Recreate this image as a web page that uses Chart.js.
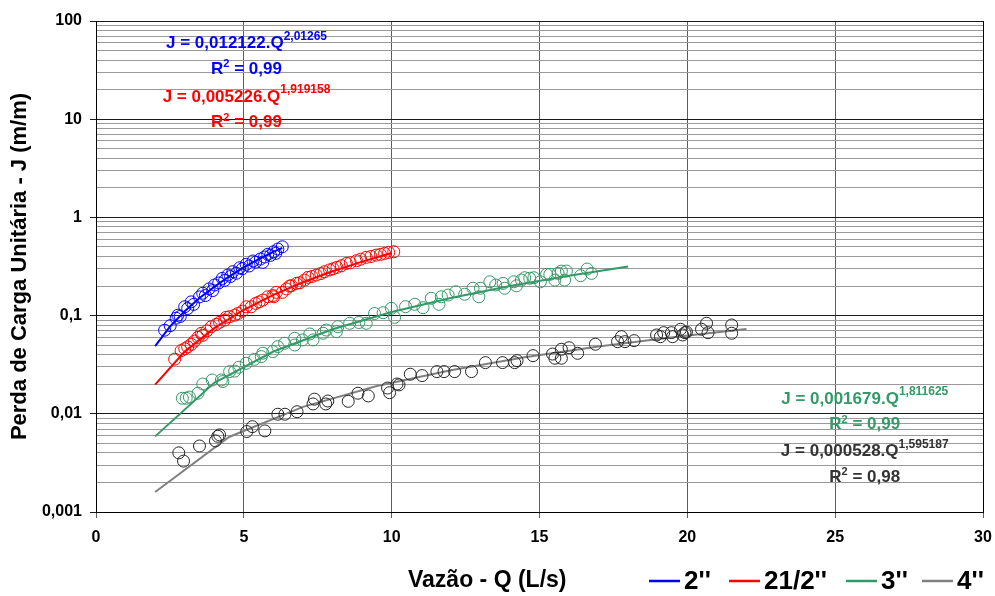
<!DOCTYPE html>
<html lang="pt-BR">
<head>
<meta charset="utf-8">
<title>Perda de carga unitária x vazão</title>
<script src="https://cdn.jsdelivr.net/npm/chart.js@4.4.1/dist/chart.umd.min.js"></script>
<style>
  html, body { margin: 0; padding: 0; background: #fff; }
  #wrap { width: 995px; height: 596px; }
</style>
</head>
<body>
<div id="wrap"><canvas id="chart" width="995" height="596"></canvas></div>
<script>
// Perda de carga unitária (J) x vazão (Q) para tubos de 2", 2 1/2", 3" e 4"

// Medições - 2"
const q2 = [2.32, 2.51, 2.71, 2.77, 2.85, 3.00, 3.10, 3.22, 3.30, 3.50, 3.61, 3.70, 3.82, 3.95, 4.01, 4.15, 4.27, 4.35, 4.46, 4.55, 4.63, 4.75, 4.86, 4.95, 5.08, 5.18, 5.31, 5.40, 5.56, 5.64, 5.70, 5.81, 5.90, 6.01, 6.08, 6.15, 6.30];
const j2 = [0.071, 0.079, 0.094, 0.101, 0.098, 0.123, 0.118, 0.138, 0.130, 0.155, 0.169, 0.160, 0.187, 0.180, 0.205, 0.215, 0.239, 0.228, 0.259, 0.250, 0.280, 0.270, 0.307, 0.300, 0.333, 0.320, 0.360, 0.350, 0.377, 0.348, 0.395, 0.421, 0.410, 0.447, 0.430, 0.476, 0.502];

// Medições - 2 1/2"
const q25 = [2.66, 2.88, 3.00, 3.10, 3.22, 3.33, 3.45, 3.56, 3.61, 3.75, 3.90, 4.07, 4.18, 4.35, 4.40, 4.52, 4.69, 4.80, 4.95, 5.08, 5.25, 5.40, 5.52, 5.64, 5.81, 5.98, 6.01, 6.10, 6.30, 6.44, 6.55, 6.61, 6.78, 6.89, 7.05, 7.17, 7.30, 7.45, 7.60, 7.73, 7.90, 8.02, 8.15, 8.30, 8.47, 8.60, 8.81, 8.95, 9.14, 9.30, 9.48, 9.62, 9.76, 9.90, 10.07];
const j25 = [0.036, 0.044, 0.046, 0.048, 0.051, 0.055, 0.060, 0.066, 0.063, 0.070, 0.077, 0.0815, 0.0855, 0.090, 0.096, 0.0975, 0.101, 0.105, 0.111, 0.123, 0.123, 0.133, 0.138, 0.144, 0.1555, 0.160, 0.1555, 0.1725, 0.1725, 0.187, 0.200, 0.2015, 0.213, 0.216, 0.230, 0.245, 0.250, 0.259, 0.268, 0.280, 0.292, 0.300, 0.310, 0.322, 0.340, 0.345, 0.362, 0.375, 0.392, 0.400, 0.413, 0.420, 0.430, 0.440, 0.447];

// Medições - 3"
const q3 = [2.92, 3.05, 3.16, 3.45, 3.61, 3.93, 4.24, 4.29, 4.52, 4.69, 4.83, 5.08, 5.36, 5.59, 5.64, 5.98, 6.15, 6.38, 6.72, 6.72, 6.98, 7.23, 7.34, 7.68, 7.79, 8.13, 8.18, 8.58, 8.89, 9.14, 9.42, 9.71, 9.99, 10.10, 10.47, 10.78, 11.06, 11.34, 11.60, 11.68, 11.91, 12.17, 12.47, 12.75, 12.95, 13.00, 13.32, 13.52, 13.77, 13.82, 14.13, 14.22, 14.39, 14.50, 14.67, 14.81, 15.03, 15.24, 15.35, 15.52, 15.63, 15.74, 15.85, 15.91, 16.39, 16.61, 16.76];
const j3 = [0.0144, 0.0144, 0.0148, 0.0162, 0.0201, 0.0221, 0.0221, 0.0213, 0.0269, 0.0272, 0.0298, 0.0327, 0.0359, 0.0382, 0.0414, 0.0430, 0.0483, 0.0523, 0.0502, 0.0587, 0.0565, 0.0650, 0.0565, 0.0661, 0.0713, 0.0686, 0.0771, 0.0835, 0.0850, 0.0835, 0.105, 0.107, 0.1186, 0.096, 0.1233, 0.1303, 0.1203, 0.150, 0.1303, 0.1555, 0.162, 0.175, 0.165, 0.190, 0.1555, 0.190, 0.221, 0.205, 0.213, 0.190, 0.221, 0.201, 0.230, 0.243, 0.240, 0.243, 0.221, 0.263, 0.263, 0.230, 0.269, 0.284, 0.230, 0.284, 0.255, 0.298, 0.269];

// Medições - 4"
const q4 = [2.80, 2.96, 3.50, 4.04, 4.12, 4.18, 5.10, 5.29, 5.71, 6.15, 6.39, 6.80, 7.34, 7.39, 7.77, 7.84, 8.53, 8.86, 9.21, 9.86, 9.93, 10.18, 10.25, 10.63, 11.03, 11.53, 11.77, 12.13, 12.70, 13.17, 13.75, 14.16, 14.24, 14.78, 15.44, 15.52, 15.74, 15.74, 16.00, 16.29, 16.89, 17.64, 17.77, 17.89, 18.20, 18.96, 19.09, 19.20, 19.46, 19.50, 19.77, 19.84, 19.92, 19.97, 20.48, 20.65, 20.70, 21.50, 21.50];
const j4 = [0.0040, 0.0033, 0.0047, 0.0053, 0.0059, 0.0061, 0.0066, 0.0074, 0.0067, 0.0099, 0.0099, 0.0105, 0.0126, 0.0141, 0.0126, 0.0135, 0.0134, 0.0162, 0.0152, 0.0183, 0.0164, 0.0201, 0.0197, 0.0253, 0.0245, 0.0269, 0.0269, 0.0269, 0.0269, 0.0332, 0.0332, 0.0332, 0.0348, 0.0391, 0.0406, 0.0368, 0.0368, 0.0454, 0.0471, 0.0413, 0.0511, 0.0543, 0.0610, 0.0543, 0.0556, 0.0635, 0.0610, 0.0670, 0.0670, 0.0610, 0.0726, 0.0635, 0.0670, 0.0680, 0.0726, 0.0836, 0.0670, 0.0802, 0.0661];

// Curvas ajustadas (linhas de tendência)
const fitQ2 = [2, 2.5, 3, 3.5, 4, 4.5, 5, 5.5, 6, 6.3];
const fitJ2 = [0.049, 0.077, 0.111, 0.151, 0.196, 0.250, 0.309, 0.375, 0.445, 0.49];
const fitQ25 = [2, 3, 4, 5, 6, 7, 8, 9, 10];
const fitJ25 = [0.0198, 0.0430, 0.0747, 0.1147, 0.1628, 0.2188, 0.2827, 0.3543, 0.4338];
const fitQ3 = [2, 4, 6, 8, 10, 12, 14, 16, 18];
const fitJ3 = [0.00589, 0.0207, 0.0431, 0.0726, 0.1088, 0.1514, 0.2001, 0.2549, 0.3156];
const fitQ4 = [2, 4.5, 7, 9.5, 12, 14.5, 17, 19.5, 22];
const fitJ4 = [0.0016, 0.00581, 0.01176, 0.01915, 0.0278, 0.0376, 0.0484, 0.0603, 0.0731];

// Eixos
const yDecades = [0.001, 0.01, 0.1, 1, 10, 100];
const yDecadeLabels = ['0,001', '0,01', '0,1', '1', '10', '100'];
const seriesNames = ["2''", "21/2''", "3''", "4''"];

const FONT = '"Liberation Sans", Arial, Helvetica, sans-serif';
const BLUE = '#0000ff';
const RED = '#ff0000';
const GREEN = '#339966';
const GRAY = '#808080';
const DARK = '#262626';

Chart.defaults.font.family = FONT;
Chart.defaults.color = '#000';

const pts = (qs, js) => qs.map((q, i) => ({ x: q, y: js[i] }));

function fitLine(label, qs, js, color) {
  return {
    label: label,
    data: pts(qs, js),
    showLine: true,
    fill: false,
    borderColor: color,
    backgroundColor: color,
    borderWidth: 2,
    pointRadius: 0,
    pointHoverRadius: 0,
    tension: 0
  };
}

function measured(label, qs, js, color) {
  return {
    label: label,
    data: pts(qs, js),
    showLine: false,
    pointRadius: 6,
    pointHoverRadius: 6,
    pointBorderWidth: 1,
    pointBorderColor: color,
    pointBackgroundColor: 'rgba(0,0,0,0)'
  };
}

const datasets = [
  measured('2" medido', q2, j2, BLUE),
  measured('21/2" medido', q25, j25, RED),
  measured('3" medido', q3, j3, GREEN),
  measured('4" medido', q4, j4, DARK),
  fitLine(seriesNames[0], fitQ2, fitJ2, BLUE),
  fitLine(seriesNames[1], fitQ25, fitJ25, RED),
  fitLine(seriesNames[2], fitQ3, fitJ3, GREEN),
  fitLine(seriesNames[3], fitQ4, fitJ4, GRAY)
];

// Equações das linhas de tendência (posição em unidades dos eixos)
const fitNotes = [
  { color: BLUE, coef: '0,012122', exp: '2,01265', r2: '0,99', at: [5.09, 58.8] },
  { color: RED, coef: '0,005226', exp: '1,919158', r2: '0,99', at: [5.09, 16.8] },
  { color: GREEN, coef: '0,001679', exp: '1,811625', r2: '0,99', at: [26.0, 0.01415] },
  { color: '#333333', coef: '0,000528', exp: '1,595187', r2: '0,98', at: [26.0, 0.00411] }
];

// Escreve trechos de texto (com sobrescritos) centralizados em cx
function drawRuns(ctx, cx, cy, color, runs) {
  const widths = runs.map(r => {
    ctx.font = 'bold ' + r[1] + 'px ' + FONT;
    return ctx.measureText(r[0]).width;
  });
  let xPos = cx - widths.reduce((a, b) => a + b, 0) / 2;
  ctx.fillStyle = color;
  ctx.textAlign = 'left';
  ctx.textBaseline = 'middle';
  runs.forEach((r, i) => {
    ctx.font = 'bold ' + r[1] + 'px ' + FONT;
    ctx.fillText(r[0], xPos, cy + r[2]);
    xPos += widths[i];
  });
}

const overlay = {
  id: 'overlay',
  afterDraw(chart) {
    const { ctx } = chart;
    const x = chart.scales.x;
    const y = chart.scales.y;
    ctx.save();

    fitNotes.forEach(n => {
      const cx = x.getPixelForValue(n.at[0]);
      const cy = y.getPixelForValue(n.at[1]);
      drawRuns(ctx, cx, cy, n.color, [['J = ' + n.coef + '.Q', 17, 0], [n.exp, 12, -7]]);
      drawRuns(ctx, cx, cy + 25.5, n.color, [['R', 17, 0], ['2', 11, -5], [' = ' + n.r2, 17, 0]]);
    });

    // título do eixo X e legenda na mesma linha, abaixo do gráfico
    const rowY = 581;
    ctx.fillStyle = '#000';
    ctx.textAlign = 'left';
    ctx.textBaseline = 'middle';
    ctx.font = 'bold 23px ' + FONT;
    ctx.fillText('Vazão - Q (L/s)', 408, rowY);

    const lines = chart.data.datasets.filter(d => d.showLine);
    const starts = [649, 729, 846, 922];
    lines.forEach((d, i) => {
      const x0 = starts[i];
      ctx.strokeStyle = d.borderColor;
      ctx.lineWidth = 2.5;
      ctx.beginPath();
      ctx.moveTo(x0, rowY);
      ctx.lineTo(x0 + 31, rowY);
      ctx.stroke();
      ctx.fillStyle = '#000';
      ctx.font = 'bold 26px ' + FONT;
      ctx.fillText(d.label, x0 + 35, rowY + 1);
    });

    ctx.restore();
  }
};

new Chart(document.getElementById('chart'), {
  type: 'scatter',
  data: { datasets: datasets },
  options: {
    responsive: false,
    animation: false,
    events: [],
    layout: { padding: { left: 0, right: 12, top: 21, bottom: 0 } },
    plugins: {
      legend: { display: false },
      tooltip: { enabled: false }
    },
    scales: {
      x: {
        type: 'linear',
        min: 0,
        max: 30,
        afterFit(scale) {
          scale.height = 84;
          // o rótulo "30" cabe na margem direita
          scale.paddingLeft = 0;
          scale.paddingRight = 0;
        },
        ticks: {
          stepSize: 5,
          padding: 10,
          color: '#000',
          font: { size: 16, weight: 'bold' }
        },
        grid: {
          tickLength: 6,
          lineWidth: 1,
          color: c => (c.tick && (c.tick.value === 0 || c.tick.value === 30)) ? '#000' : '#5e5e5e',
          tickColor: '#5e5e5e'
        },
        border: { color: '#000', width: 1 },
        title: { display: false }
      },
      y: {
        type: 'logarithmic',
        min: 0.001,
        max: 100,
        afterFit(scale) { scale.width = 96; },
        afterBuildTicks(scale) {
          const ticks = [];
          yDecades.forEach((d, i) => {
            ticks.push({ value: d, major: true });
            if (i < yDecades.length - 1) {
              for (let m = 2; m <= 9; m++) ticks.push({ value: +(d * m).toPrecision(3), major: false });
            }
          });
          scale.ticks = ticks;
        },
        ticks: {
          autoSkip: false,
          padding: 8,
          color: '#000',
          font: { size: 16, weight: 'bold' },
          callback: value => {
            const k = yDecades.indexOf(value);
            return k >= 0 ? yDecadeLabels[k] : '';
          }
        },
        grid: {
          tickLength: 6,
          lineWidth: 1,
          color: c => (c.tick && c.tick.major) ? '#1a1a1a' : '#9a9a9a',
          tickColor: c => (c.tick && c.tick.major) ? '#1a1a1a' : 'rgba(0,0,0,0)'
        },
        border: { color: '#000', width: 1 },
        title: {
          display: true,
          text: 'Perda de Carga Unitária - J (m/m)',
          color: '#000',
          font: { size: 22, weight: 'bold' },
          padding: { top: 7, bottom: 0 }
        }
      }
    }
  },
  plugins: [overlay]
});
</script>
</body>
</html>
